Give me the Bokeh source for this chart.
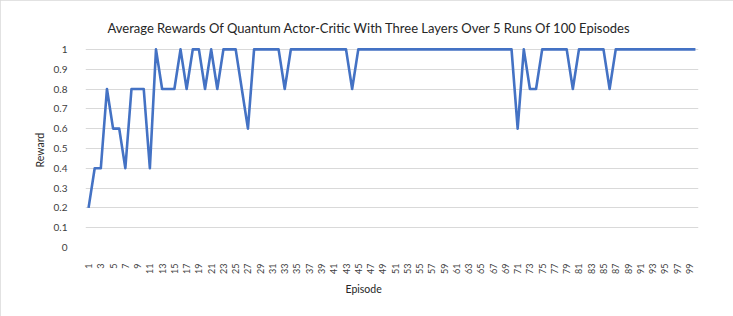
import math
from bokeh.plotting import figure
from bokeh.models import Range1d, FixedTicker, Title
from bokeh.embed import file_html
from bokeh.resources import INLINE

episodes = list(range(1, 101))
rewards = [
    0.2, 0.4, 0.4, 0.8, 0.6, 0.6, 0.4, 0.8, 0.8, 0.8,
    0.4, 1.0, 0.8, 0.8, 0.8, 1.0, 0.8, 1.0, 1.0, 0.8,
    1.0, 0.8, 1.0, 1.0, 1.0, 0.8, 0.6, 1.0, 1.0, 1.0,
    1.0, 1.0, 0.8, 1.0, 1.0, 1.0, 1.0, 1.0, 1.0, 1.0,
    1.0, 1.0, 1.0, 0.8, 1.0, 1.0, 1.0, 1.0, 1.0, 1.0,
    1.0, 1.0, 1.0, 1.0, 1.0, 1.0, 1.0, 1.0, 1.0, 1.0,
    1.0, 1.0, 1.0, 1.0, 1.0, 1.0, 1.0, 1.0, 1.0, 1.0,
    0.6, 1.0, 0.8, 0.8, 1.0, 1.0, 1.0, 1.0, 1.0, 0.8,
    1.0, 1.0, 1.0, 1.0, 1.0, 0.8, 1.0, 1.0, 1.0, 1.0,
    1.0, 1.0, 1.0, 1.0, 1.0, 1.0, 1.0, 1.0, 1.0, 1.0,
]
x_ticks = list(range(1, 100, 2))
y_ticks = [0, 0.1, 0.2, 0.3, 0.4, 0.5, 0.6, 0.7, 0.8, 0.9, 1]
y_tick_labels = {0: "0", 0.1: "0.1", 0.2: "0.2", 0.3: "0.3", 0.4: "0.4", 0.5: "0.5",
                 0.6: "0.6", 0.7: "0.7", 0.8: "0.8", 0.9: "0.9", 1: "1"}

title_text = "Average Rewards Of Quantum Actor-Critic With Three Layers Over 5 Runs Of 100 Episodes"
x_label = "Episode"
y_label = "Reward"
FONT = "Lato"

p = figure(width=733, height=316, output_backend="svg", toolbar_location=None,
           x_range=Range1d(0.5, 100.5), y_range=Range1d(0, 1.05),
           min_border_left=85, min_border_right=35, min_border_top=39, min_border_bottom=69,
           styles={"outline": "1px solid #d9d9d9", "outline-offset": "-1px"})
p.outline_line_color = None
p.background_fill_color = "white"
p.border_fill_color = "white"

p.title.text = title_text
p.title.align = "left"
p.title.offset = 22
p.title.standoff = 8
p.title.text_font = FONT
p.title.text_font_size = "13px"
p.title.text_font_style = "normal"
p.title.text_color = "#262626"

p.xgrid.grid_line_color = None
p.ygrid.grid_line_color = "#d9d9d9"
p.ygrid.grid_line_width = 1
p.ygrid.ticker = FixedTicker(ticks=y_ticks)

p.xaxis.ticker = FixedTicker(ticks=x_ticks)
p.xaxis.major_label_orientation = math.pi / 2
p.xaxis.axis_line_color = None
p.xaxis.major_tick_line_color = None
p.xaxis.minor_tick_line_color = None
p.xaxis.major_label_text_font = FONT
p.xaxis.major_label_text_font_size = "9px"
p.xaxis.major_label_text_color = "#404040"
p.xaxis.major_label_standoff = 10

p.yaxis.ticker = FixedTicker(ticks=y_ticks)
p.yaxis.major_label_overrides = y_tick_labels
p.yaxis.axis_line_color = None
p.yaxis.major_tick_line_color = None
p.yaxis.minor_tick_line_color = None
p.yaxis.major_label_text_font = FONT
p.yaxis.major_label_text_font_size = "10px"
p.yaxis.major_label_text_color = "#404040"
p.yaxis.major_label_standoff = 12

p.add_layout(Title(text=x_label, align="left", offset=260, standoff=8,
                   text_font=FONT, text_font_size="10.5px", text_font_style="normal",
                   text_color="#262626"), "below")
p.add_layout(Title(text=y_label, align="left", offset=80, standoff=9,
                   text_font=FONT, text_font_size="10.5px", text_font_style="normal",
                   text_color="#262626"), "left")

p.line(episodes, rewards, line_color="#4472C4", line_width=2.6, line_join="round")

open("out.html", "w").write(file_html(p, INLINE))
